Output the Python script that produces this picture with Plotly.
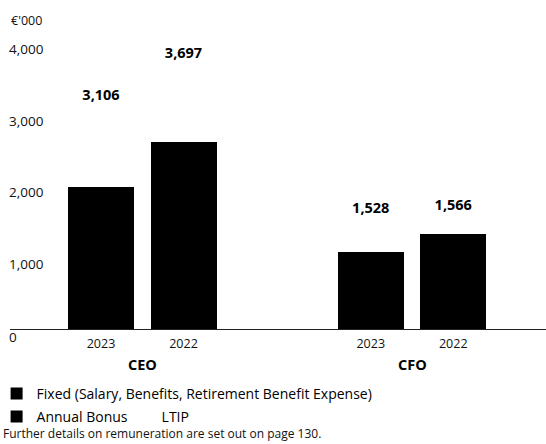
import plotly.graph_objects as go

# ---- data (€'000) ----
roles = ["CEO", "CFO"]
years = ["2023", "2022"]
bar_roles = ["CEO", "CEO", "CFO", "CFO"]
bar_years = ["2023", "2022", "2023", "2022"]
fixed = [1000, 950, 615, 620]
annual_bonus = [982, 1675, 462, 704]
ltip = [1124, 1072, 451, 242]
y_ticks = [0, 1000, 2000, 3000, 4000]
y_tick_labels = ["0", "1,000", "2,000", "3,000", "4,000"]

totals = [f + b + l for f, b, l in zip(fixed, annual_bonus, ltip)]
total_labels = [f"{t:,}" for t in totals]

# layout helpers: numeric positions per bar (group gap + year step)
GROUP_STEP = 3.27
pos = [roles.index(r) * GROUP_STEP + years.index(y) for r, y in zip(bar_roles, bar_years)]
group_centers = [i * GROUP_STEP + 0.5 for i in range(len(roles))]

FONT = "Open Sans"
BLACK = "#000000"

fig = go.Figure()
fig.add_trace(go.Bar(x=pos, y=fixed, name="Fixed (Salary, Benefits, Retirement Benefit Expense)",
                     marker=dict(color=BLACK, line=dict(width=0)), width=0.8, legend="legend",
                     hoverinfo="skip"))
fig.add_trace(go.Bar(x=pos, y=annual_bonus, name="Annual Bonus",
                     marker=dict(color=BLACK, line=dict(width=0)), width=0.8, legend="legend2",
                     hoverinfo="skip"))
fig.add_trace(go.Bar(x=pos, y=ltip, name="LTIP",
                     marker=dict(color="#ffffff", line=dict(width=0)), width=0.8, legend="legend2",
                     text=total_labels, textposition="outside", cliponaxis=False,
                     textfont=dict(family=FONT, size=14.5, color=BLACK, weight="bold"),
                     hoverinfo="skip"))

annotations = []
for v, lab in zip(y_ticks, y_tick_labels):
    annotations.append(dict(x=0, xref="paper", y=v, yref="y", text=lab, showarrow=False,
                            xanchor="left", yanchor="middle", xshift=-3,
                            yshift=-8 if v == 0 else -6,
                            font=dict(family=FONT, size=13.5, color="#111")))
annotations.append(dict(x=0, xref="paper", y=1, yref="paper", text="€'000", showarrow=False,
                        xanchor="left", yanchor="middle", xshift=-1, yshift=2,
                        font=dict(family=FONT, size=12.5, color="#111")))
for gc, r in zip(group_centers, roles):
    annotations.append(dict(x=gc, xref="x", y=0, yref="y", text=f"<b>{r}</b>", showarrow=False,
                            xanchor="center", yanchor="middle", yshift=-35,
                            font=dict(family=FONT, size=14.5, color=BLACK)))
annotations.append(dict(x=0, xref="paper", y=0, yref="paper", text="Further details on remuneration are set out on page 130.",
                        showarrow=False, xanchor="left", yanchor="middle", xshift=-9, yshift=-104,
                        font=dict(family=FONT, size=12, color="#111")))

fig.update_layout(
    width=546, height=444,
    margin=dict(l=10, r=0, t=22, b=115, autoexpand=False),
    paper_bgcolor="white", plot_bgcolor="white",
    barmode="stack",
    font=dict(family=FONT, size=12, color=BLACK),
    xaxis=dict(range=[-1.103, 5.394], tickvals=pos, ticktext=bar_years, showgrid=False,
               zeroline=False, showline=True, linecolor="#222", linewidth=1,
               ticks="", tickfont=dict(family=FONT, size=12.5, color="#111"), fixedrange=True,
               automargin=False, ticklabelstandoff=3),
    yaxis=dict(range=[0, 4300], showticklabels=False, showgrid=False, zeroline=False,
               showline=False, ticks="", fixedrange=True, automargin=False),
    legend=dict(orientation="h", x=-0.025, xanchor="left", y=-0.159, yanchor="top",
                xref="paper", yref="paper", font=dict(family=FONT, size=14, color=BLACK),
                bgcolor="rgba(0,0,0,0)", itemwidth=30, traceorder="normal"),
    legend2=dict(orientation="h", x=-0.025, xanchor="left", y=-0.234, yanchor="top",
                 xref="paper", yref="paper", font=dict(family=FONT, size=14, color=BLACK),
                 bgcolor="rgba(0,0,0,0)", itemwidth=30, traceorder="normal",
                 entrywidth=80, entrywidthmode="pixels"),
    annotations=annotations,
    showlegend=True,
)

fig.write_html("out.html", config={"displayModeBar": False},
               post_script="document.body.style.margin='0';document.body.style.overflow='hidden';")
